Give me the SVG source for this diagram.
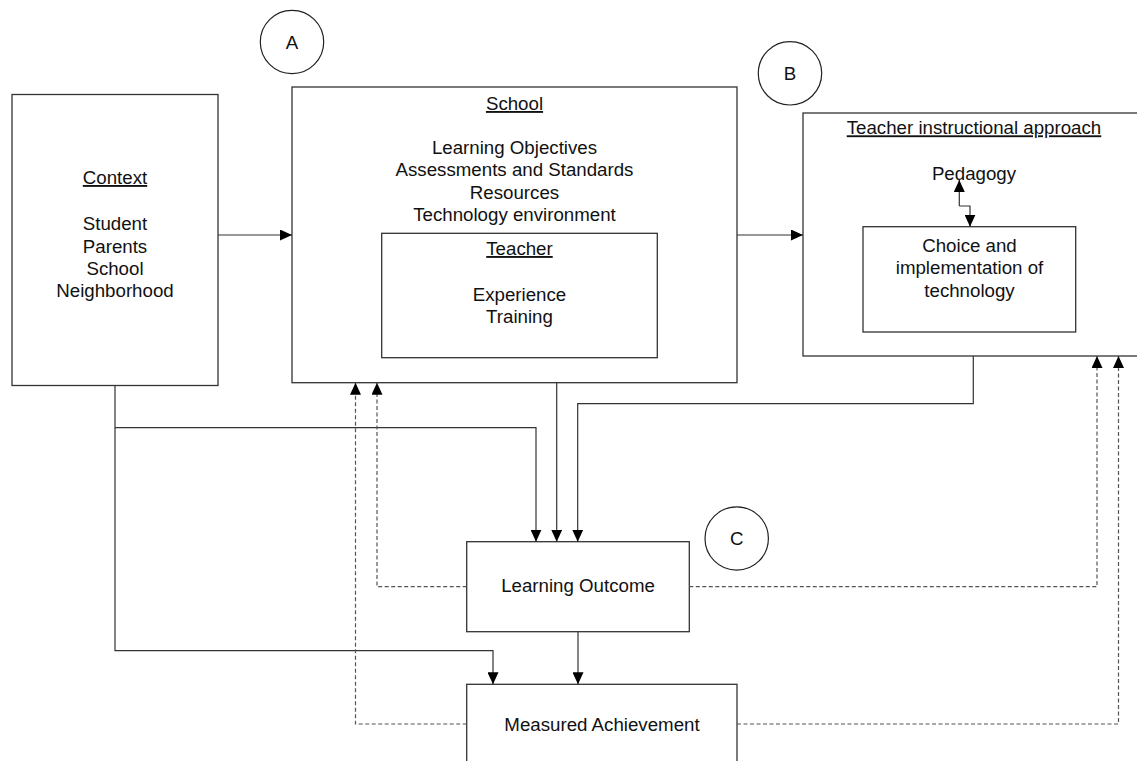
<svg xmlns="http://www.w3.org/2000/svg" width="1137" height="761" viewBox="0 0 1137 761">
<style>
.box{fill:#fff;stroke:#333;stroke-width:1.3}
.circ{fill:#fff;stroke:#222;stroke-width:1.2}
.t{font-family:"Liberation Sans",Arial,sans-serif;font-size:18.7px;fill:#111;text-anchor:middle}
.u{text-decoration:underline}
.ln{fill:none;stroke:#333;stroke-width:1.2}
.dl{fill:none;stroke:#555;stroke-width:1.2;stroke-dasharray:4 2.5}
</style>
<defs>
<marker id="ah" viewBox="0 0 12 11" refX="12" refY="5.5" markerWidth="12" markerHeight="11" markerUnits="userSpaceOnUse" orient="auto">
<path d="M0,0 L12,5.5 L0,11 z" fill="#000"/>
</marker>
</defs>
<rect width="1137" height="761" fill="#fff"/>
<g id="context">
<rect class="box" x="12" y="94.5" width="206" height="291"/>
<text class="t u" x="115" y="184">Context</text>
<text class="t" x="115" y="230">Student</text>
<text class="t" x="115" y="252.5">Parents</text>
<text class="t" x="115" y="275">School</text>
<text class="t" x="115" y="297">Neighborhood</text>
</g>
<g id="school">
<rect class="box" x="292" y="87" width="445" height="295.7"/>
<text class="t u" x="514.5" y="110">School</text>
<text class="t" x="514.5" y="153.5">Learning Objectives</text>
<text class="t" x="514.5" y="176">Assessments and Standards</text>
<text class="t" x="514.5" y="199">Resources</text>
<text class="t" x="514.5" y="221">Technology environment</text>
</g>
<g id="teacher">
<rect class="box" x="381.7" y="233.3" width="275.6" height="124.4"/>
<text class="t u" x="519.5" y="255">Teacher</text>
<text class="t" x="519.5" y="301">Experience</text>
<text class="t" x="519.5" y="322.5">Training</text>
</g>
<g id="approach">
<rect class="box" x="803" y="113" width="342" height="243"/>
<text class="t u" x="974" y="134.3">Teacher instructional approach</text>
<text class="t" x="974" y="180">Pedagogy</text>
</g>
<g id="choice">
<rect class="box" x="863" y="226.7" width="212.7" height="105.3"/>
<text class="t" x="969.5" y="251.7">Choice and</text>
<text class="t" x="969.5" y="274">implementation of</text>
<text class="t" x="969.5" y="296.7">technology</text>
</g>
<g id="outcome">
<rect class="box" x="466.7" y="541.7" width="222.6" height="90"/>
<text class="t" x="578" y="591.7">Learning Outcome</text>
</g>
<g id="achievement">
<rect class="box" x="466.7" y="684.3" width="270.3" height="90"/>
<text class="t" x="602" y="730.5">Measured Achievement</text>
</g>
<g id="circleA">
<circle class="circ" cx="292" cy="42" r="31.7"/>
<text class="t" x="292" y="48.5">A</text>
</g>
<g id="circleB">
<circle class="circ" cx="790" cy="73.3" r="31.7"/>
<text class="t" x="790" y="79.5">B</text>
</g>
<g id="circleC">
<circle class="circ" cx="736.7" cy="538.5" r="31.7"/>
<text class="t" x="736.7" y="545">C</text>
</g>
<g id="connectors">
<path class="ln" d="M218,235 H292" marker-end="url(#ah)"/>
<path class="ln" d="M737,235 H803" marker-end="url(#ah)"/>
<path class="ln" d="M959.3,206 V180" marker-end="url(#ah)"/>
<path class="ln" d="M959.3,206 H970 V226.7" marker-end="url(#ah)"/>
<path class="ln" d="M115,385.5 V650.7 H493 V684.3" marker-end="url(#ah)"/>
<path class="ln" d="M115,427.7 H536 V541.7" marker-end="url(#ah)"/>
<path class="ln" d="M556.7,382.7 V541.7" marker-end="url(#ah)"/>
<path class="ln" d="M973.3,356 V403.7 H577.7 V541.7" marker-end="url(#ah)"/>
<path class="ln" d="M578,631.7 V684.3" marker-end="url(#ah)"/>
<path class="dl" d="M466.7,586.7 H377 V382.7" marker-end="url(#ah)"/>
<path class="dl" d="M466.7,724 H355.5 V382.7" marker-end="url(#ah)"/>
<path class="dl" d="M689.3,586.7 H1097 V356" marker-end="url(#ah)"/>
<path class="dl" d="M737,724 H1118.5 V356" marker-end="url(#ah)"/>
</g>
</svg>
